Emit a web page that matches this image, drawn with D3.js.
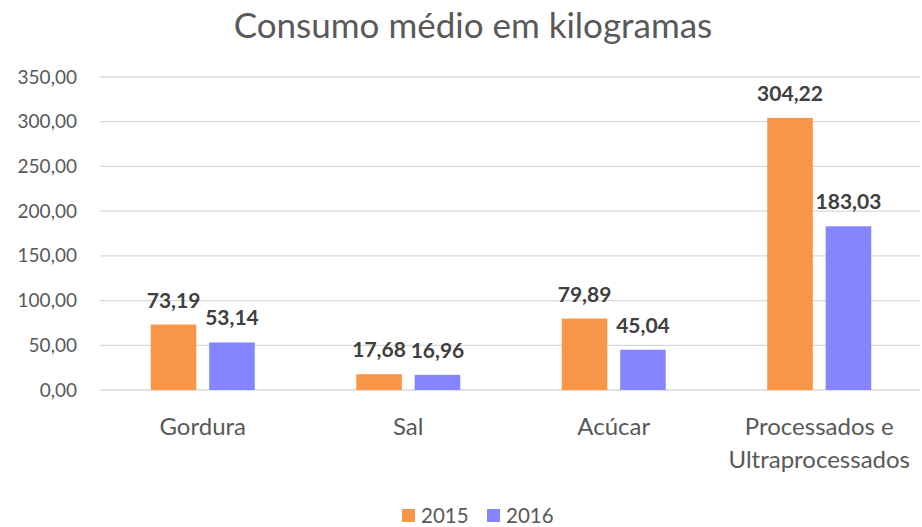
<!DOCTYPE html>
<html>
<head>
<meta charset="utf-8">
<script src="https://cdn.jsdelivr.net/npm/d3@7"></script>
<style>
  body { margin: 0; background: #fff; }
  svg text { font-family: Lato, "Open Sans", sans-serif; }
</style>
</head>
<body>
<div id="chart"></div>
<script>
// dados do gráfico
const categories = ["Gordura", "Sal", "Acúcar", "Processados e|Ultraprocessados"];
const series = ["2015", "2016"];
const values2015 = [73.19, 17.68, 79.89, 304.22];
const values2016 = [53.14, 16.96, 45.04, 183.03];
const yTicks = [0, 50, 100, 150, 200, 250, 300, 350];
const colors = ["#F79646", "#8585FF"];

const W = 922, H = 527;
const margin = { top: 77, right: 0, bottom: 137, left: 100 };
const width = W - margin.left - margin.right,
  height = H - margin.top - margin.bottom;

const fmt = v => v.toFixed(2).replace(".", ",");

const svg = d3.select("#chart").append("svg")
  .attr("width", W).attr("height", H);

svg.append("text")
  .attr("x", 473).attr("y", 38)
  .attr("text-anchor", "middle")
  .attr("font-size", 35)
  .attr("fill", "#595959")
  .text("Consumo médio em kilogramas");

const g = svg.append("g").attr("transform", `translate(${margin.left},${margin.top})`);

const x = d3.scaleBand().domain(categories).range([0, width]).paddingInner(0).paddingOuter(0);
const x1 = d3.scaleBand().domain(series).range([x.bandwidth() / 2 - 52, x.bandwidth() / 2 + 52]).paddingInner(0.22);
const y = d3.scaleLinear().domain([0, 350]).range([height, 0]);

// grade
g.selectAll(".grid").data(yTicks).enter().append("line")
  .attr("x1", 0).attr("x2", width - 2)
  .attr("y1", d => y(d)).attr("y2", d => y(d))
  .attr("stroke", "#d9d9d9").attr("stroke-width", 1.3);

// eixo y
const yAxis = g.append("g").call(d3.axisLeft(y).tickValues(yTicks).tickFormat(fmt).tickSize(0).tickPadding(23));
yAxis.select(".domain").remove();
yAxis.selectAll("text").attr("font-size", 19).attr("fill", "#595959").style("font-family", "Lato, sans-serif");

const data = categories.map((c, i) => ({ cat: c, vals: [values2015[i], values2016[i]] }));

const grp = g.selectAll(".grp").data(data).enter().append("g")
  .attr("transform", d => `translate(${x(d.cat)},0)`);

grp.selectAll("rect").data(d => d.vals.map((v, j) => ({ s: series[j], v, j }))).enter().append("rect")
  .attr("x", d => x1(d.s))
  .attr("y", d => y(d.v))
  .attr("width", x1.bandwidth())
  .attr("height", d => height - y(d.v))
  .attr("fill", d => colors[d.j]);

grp.selectAll(".lbl").data(d => d.vals.map((v, j) => ({ s: series[j], v, j }))).enter().append("text")
  .attr("x", d => x1(d.s) + x1.bandwidth() / 2)
  .attr("y", d => y(d.v) - 17)
  .attr("text-anchor", "middle")
  .attr("font-size", 21)
  .attr("font-weight", "bold")
  .attr("fill", "#404040")
  .text(d => fmt(d.v));

// rótulos das categorias
grp.each(function (d) {
  const t = d3.select(this).append("text")
    .attr("text-anchor", "middle")
    .attr("font-size", 24)
    .attr("fill", "#595959");
  d.cat.split("|").forEach((line, k) => {
    t.append("tspan").attr("x", x.bandwidth() / 2).attr("y", height + 45 + k * 33).text(line);
  });
});

// legenda
const leg = svg.append("g").attr("transform", "translate(402,509)");
series.forEach((s, i) => {
  const lg = leg.append("g").attr("transform", `translate(${i * 85},0)`);
  lg.append("rect").attr("x", 0).attr("y", 0).attr("width", 13).attr("height", 13).attr("fill", colors[i]);
  lg.append("text").attr("x", 19).attr("y", 14).attr("font-size", 20.5).attr("fill", "#595959").text(s);
});
</script>
</body>
</html>
